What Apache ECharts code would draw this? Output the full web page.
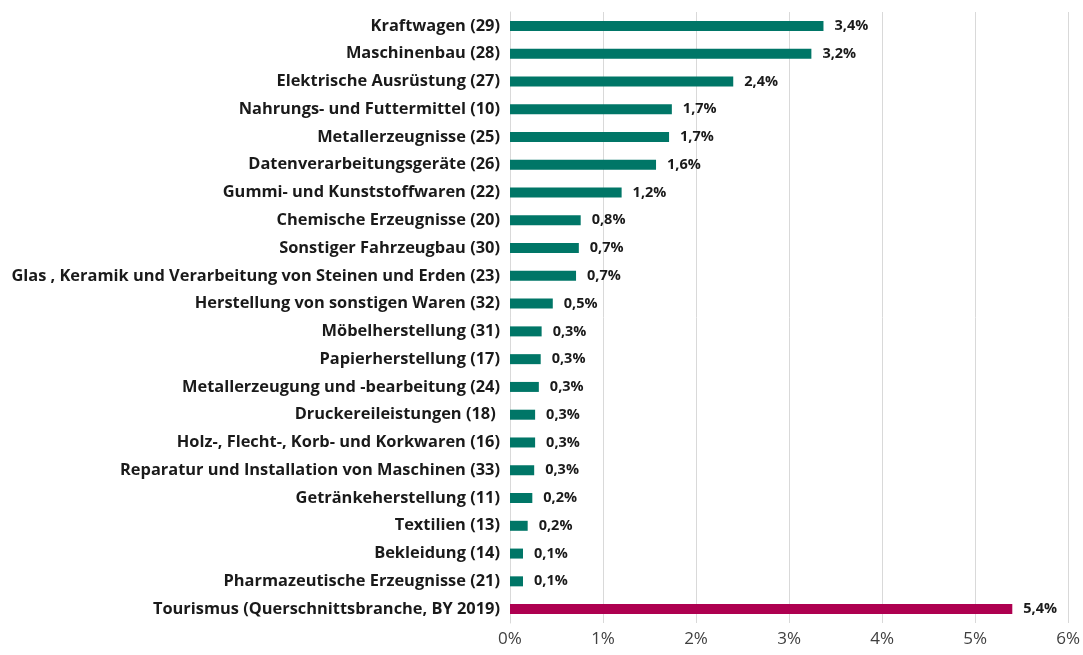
<!DOCTYPE html>
<html>
<head>
<meta charset="utf-8">
<script src="https://cdn.jsdelivr.net/npm/echarts@6/dist/echarts.min.js"></script>
<style>
  html, body { margin: 0; padding: 0; background: #fff; }
  #chart { width: 1083px; height: 655px; }
</style>
</head>
<body>
<div id="chart"></div>
<script>
// Branchen, von oben nach unten
const categories = [
  'Kraftwagen (29)',
  'Maschinenbau (28)',
  'Elektrische Ausrüstung (27)',
  'Nahrungs- und Futtermittel (10)',
  'Metallerzeugnisse (25)',
  'Datenverarbeitungsgeräte (26)',
  'Gummi- und Kunststoffwaren (22)',
  'Chemische Erzeugnisse (20)',
  'Sonstiger Fahrzeugbau (30)',
  'Glas , Keramik und Verarbeitung von Steinen und Erden (23)',
  'Herstellung von sonstigen Waren (32)',
  'Möbelherstellung (31)',
  'Papierherstellung (17)',
  'Metallerzeugung und -bearbeitung (24)',
  'Druckereileistungen (18) ',
  'Holz-, Flecht-, Korb- und Korkwaren (16)',
  'Reparatur und Installation von Maschinen (33)',
  'Getränkeherstellung (11)',
  'Textilien (13)',
  'Bekleidung (14)',
  'Pharmazeutische Erzeugnisse (21)',
  'Tourismus (Querschnittsbranche, BY 2019)'
]

// Anteile in Prozent
const values = [3.37, 3.24, 2.40, 1.74, 1.71, 1.57, 1.20, 0.76, 0.74, 0.71, 0.46, 0.34, 0.33, 0.31, 0.27, 0.27, 0.26, 0.24, 0.19, 0.14, 0.14, 5.40]

const xTicks = [0, 1, 2, 3, 4, 5, 6]

const tealColor = '#007667'
const tourismColor = '#AE0050'
const fontFamily = '"Open Sans", Lato, sans-serif'

const chart = echarts.init(document.getElementById('chart'))

const option = {
  animation: false,
  grid: {
    left: 510,
    right: 13,
    top: 12,
    bottom: 32,
    containLabel: false
  },
  xAxis: {
    type: 'value',
    min: xTicks[0],
    max: xTicks[xTicks.length - 1],
    interval: 1,
    axisLine: { show: false },
    axisTick: { show: false },
    splitLine: { show: true, lineStyle: { color: '#D9D9D9', width: 1 } },
    axisLabel: {
      formatter: v => v + '%',
      color: '#404040',
      fontSize: 17,
      fontFamily: fontFamily,
      margin: 8
    }
  },
  yAxis: {
    type: 'category',
    inverse: true,
    data: categories,
    axisLine: { show: true, lineStyle: { color: '#D9D9D9' } },
    axisTick: { show: false },
    axisLabel: {
      color: '#1a1a1a',
      fontWeight: 'bold',
      fontSize: 16.4,
      fontFamily: fontFamily,
      margin: 10
    }
  },
  series: [
    {
      type: 'bar',
      barWidth: 10,
      data: values.map((v, i) => ({
        value: v,
        itemStyle: { color: i === values.length - 1 ? tourismColor : tealColor }
      })),
      label: {
        show: true,
        position: 'right',
        distance: 11,
        color: '#1a1a1a',
        fontWeight: 'bold',
        fontSize: 14.5,
        fontFamily: fontFamily,
        formatter: p => p.value.toFixed(1).replace('.', ',') + '%'
      }
    }
  ]
}

chart.setOption(option)
</script>
</body>
</html>
